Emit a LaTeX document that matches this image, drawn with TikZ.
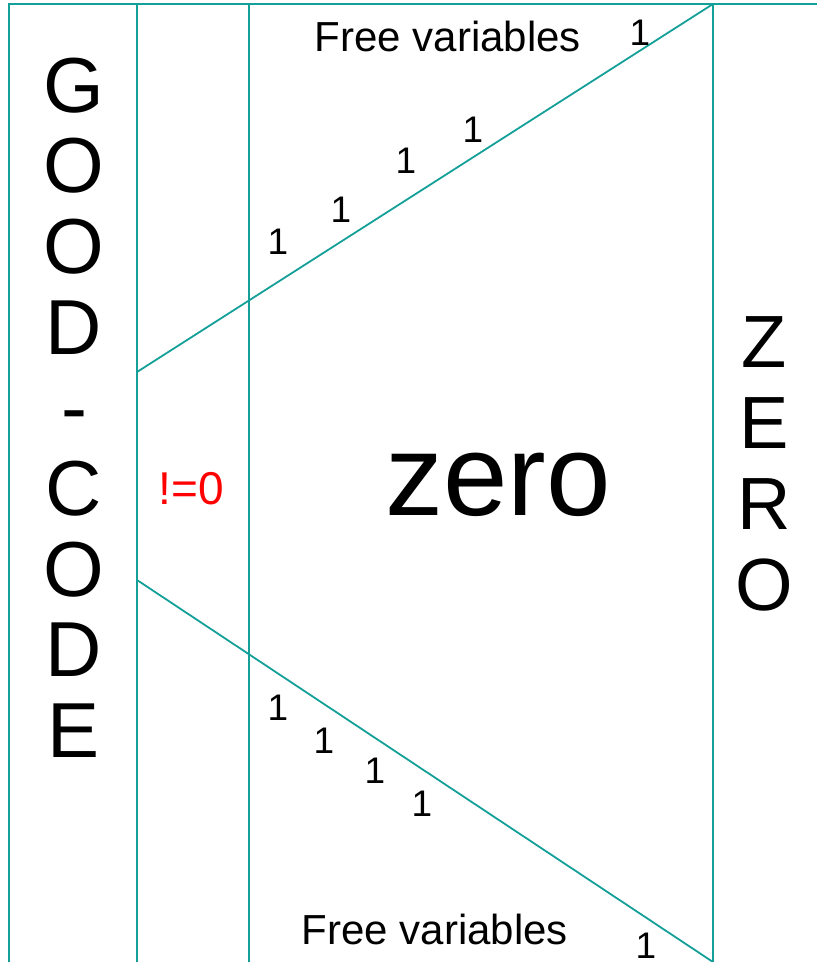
\documentclass[tikz,border=0pt]{standalone}
\usepackage{fontspec}
\setmainfont{Liberation Sans}
\definecolor{tealline}{RGB}{20,160,152}
\definecolor{neqred}{RGB}{255,0,0}
\tikzset{
  frame/.style={draw=tealline, line width=1.8pt},
  txt/.style={inner sep=0pt, anchor=base, text=black},
  bigletter/.style={txt, font=\fontsize{78}{80}\selectfont},
  zletter/.style={txt, font=\fontsize{74}{80}\selectfont},
  freevar/.style={txt, font=\fontsize{42}{46}\selectfont},
  one/.style={txt, font=\fontsize{37}{40}\selectfont},
}
\begin{document}
\begin{tikzpicture}[x=1pt,y=-1pt]
\useasboundingbox (0,0) rectangle (817,962);
% frame coordinates
\coordinate (tl) at (9,4);
\coordinate (tr) at (817,4);
\coordinate (bl) at (9,962);
\coordinate (a1) at (137,4);
\coordinate (a2) at (137,962);
\coordinate (b1) at (249,4);
\coordinate (b2) at (249,962);
\coordinate (c1) at (713,4);
\coordinate (c2) at (713,962);
\coordinate (d1) at (137,372);
\coordinate (d2) at (137,580);
% lines
\draw[frame] (bl) -- (tl) -- (tr);
\draw[frame] (a1) -- (a2);
\draw[frame] (b1) -- (b2);
\draw[frame] (c1) -- (c2);
\draw[frame] (d1) -- (c1);
\draw[frame] (d2) -- (c2);
% left vertical text
\foreach \ch [count=\i] in {G,O,O,D,-,C,O,D,E}
  \node[bigletter] (g\i) at (74, {112+80.7*(\i-1)}) {\ch};
% right vertical text
\foreach \ch [count=\i] in {Z,E,R,O}
  \node[zletter] (z\i) at (764, {367+81*(\i-1)}) {\ch};
% center texts
\node[txt, font=\fontsize{116}{120}\selectfont] (zero) at (498,515) {zero};
\node[txt, text=neqred, font=\fontsize{46}{50}\selectfont] (neq) at (191,504) {!=0};
\node[freevar] (fvtop) at (448,51) {Free variables};
\node[freevar] (fvbot) at (435,944) {Free variables};
% ones top
\node[one] (t0) at (640,45) {1};
\node[one] (t1) at (473,142) {1};
\node[one] (t2) at (406,173) {1};
\node[one] (t3) at (341,222) {1};
\node[one] (t4) at (278,254) {1};
% ones bottom
\node[one] (u1) at (278,720) {1};
\node[one] (u2) at (324,753) {1};
\node[one] (u3) at (375,783) {1};
\node[one] (u4) at (422,816) {1};
\node[one] (u0) at (646,958) {1};
\end{tikzpicture}
\end{document}
